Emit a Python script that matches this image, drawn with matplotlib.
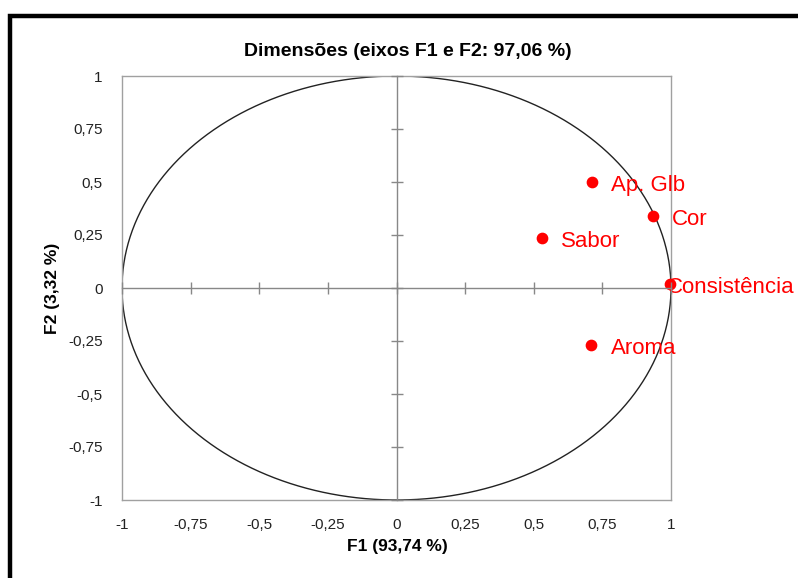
import numpy as np
import matplotlib.pyplot as plt
from matplotlib.patches import Rectangle
from matplotlib.ticker import FuncFormatter

# ---- correlation circle data ----
variables = ["Ap. Glb", "Cor", "Sabor", "Consistência", "Aroma"]
f1_coord = [0.712, 0.934, 0.530, 0.996, 0.709]
f2_coord = [0.500, 0.340, 0.236, 0.019, -0.269]
ticks = [-1, -0.75, -0.5, -0.25, 0, 0.25, 0.5, 0.75, 1]

title_txt = "Dimensões (eixos F1 e F2: 97,06 %)"
xlabel_txt = "F1 (93,74 %)"
ylabel_txt = "F2 (3,32 %)"

RED = "#ff0000"
GRAY = "#888888"

plt.rcParams["font.family"] = ["Liberation Sans", "DejaVu Sans"]


def comma_fmt(v, _pos):
    s = f"{v:g}"
    return s.replace(".", ",")


fig = plt.figure(figsize=(7.98, 5.78), dpi=100)

# outer chart frame
fig.patches.append(Rectangle((10 / 798, -0.1), 1.2, (578 - 16) / 578 + 0.1,
                             transform=fig.transFigure, fill=False,
                             edgecolor="black", linewidth=3.2, zorder=0))

rect = [122 / 798, 1 - 500 / 578, (671 - 122) / 798, (500 - 76) / 578]
ax = fig.add_axes(rect)
ax.set_xlim(-1, 1)
ax.set_ylim(-1, 1)
ax.set_xticks(ticks)
ax.set_yticks(ticks)
ax.xaxis.set_major_formatter(FuncFormatter(comma_fmt))
ax.yaxis.set_major_formatter(FuncFormatter(comma_fmt))
ax.tick_params(length=0, labelsize=11, colors="#222222")
ax.tick_params(axis="x", pad=13)
ax.tick_params(axis="y", pad=14)
for sp in ax.spines.values():
    sp.set_color("#a0a0a0")
    sp.set_linewidth(1.0)

# zero axes with crossing tick marks
ax0 = fig.add_axes(rect, sharex=ax, sharey=ax, frameon=True)
ax0.patch.set_visible(False)
ax0.spines["top"].set_visible(False)
ax0.spines["right"].set_visible(False)
ax0.spines["left"].set_position(("data", 0))
ax0.spines["bottom"].set_position(("data", 0))
for sp in ("left", "bottom"):
    ax0.spines[sp].set_color(GRAY)
    ax0.spines[sp].set_linewidth(1.0)
ax0.tick_params(direction="inout", length=8, width=1.0, color=GRAY,
                labelleft=False, labelbottom=False)

# unit circle
theta = np.linspace(0, 2 * np.pi, 400)
ax.plot(np.cos(theta), np.sin(theta), color="#222222", linewidth=1.0, zorder=2)

ax.scatter(f1_coord, f2_coord, s=55, color=RED, zorder=4, clip_on=False)
for name, x, y in zip(variables, f1_coord, f2_coord):
    dx = -2 if name == "Consistência" else 14
    ax.annotate(name, (x, y), xytext=(dx, -2.5), textcoords="offset points",
                color=RED, fontsize=16, va="center", ha="left", zorder=5)

fig.text(408 / 798, 1 - 52 / 578, title_txt, ha="center", va="center",
         fontsize=14, fontweight="bold")
fig.text(397 / 798, 1 - 546 / 578, xlabel_txt, ha="center", va="center",
         fontsize=12.5, fontweight="bold")
fig.text(52 / 798, 1 - 288 / 578, ylabel_txt, ha="center", va="center",
         fontsize=12.5, fontweight="bold", rotation=90)

fig.savefig("out.png", dpi=100)
